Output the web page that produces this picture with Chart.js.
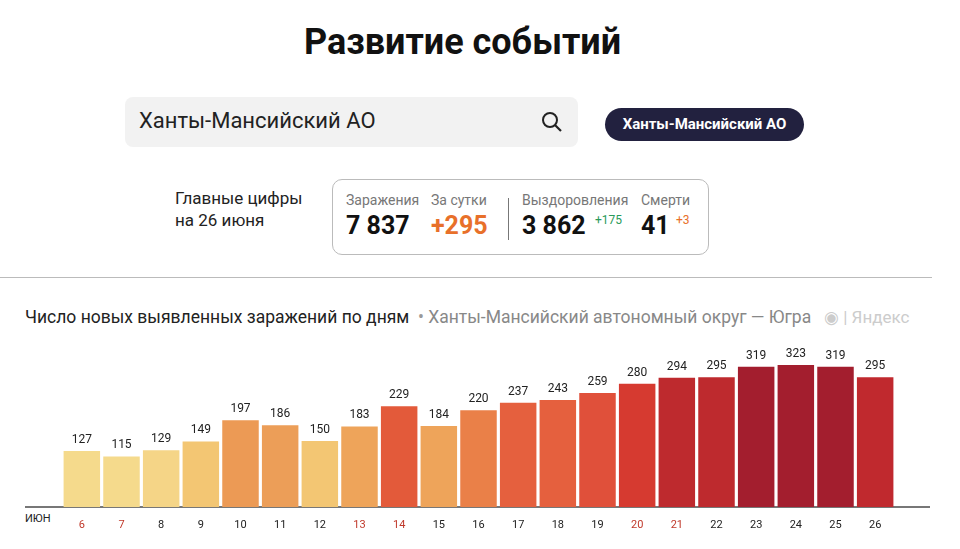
<!DOCTYPE html>
<html>
<head>
<meta charset="utf-8">
<script src="https://cdn.jsdelivr.net/npm/chart.js@4"></script>
<style>
  body { margin: 0; width: 960px; height: 549px; background: #fff; font-family: Roboto, "Noto Sans", sans-serif; position: relative; overflow: hidden; }
  .abs { position: absolute; }
  h1 { position: absolute; top: 21px; left: 0; width: 925px; text-align: center; margin: 0; font-size: 36px; font-weight: 700; color: #111; }
  .search { left: 125px; top: 97px; width: 453px; height: 50px; background: #f2f2f2; border-radius: 8px; }
  .search span { position: absolute; left: 14px; top: 11px; font-size: 22px; color: #222; }
  .pill { left: 605px; top: 108px; width: 199px; height: 33px; background: #22213f; color: #fff; border-radius: 17px; font-size: 15px; font-weight: 700; text-align: center; line-height: 33px; }
  .box { left: 332px; top: 179px; width: 375px; height: 74px; border: 1px solid #bbb; border-radius: 10px; }
  .lbl { font-size: 14px; color: #777; }
  .num { font-size: 25px; font-weight: 700; color: #111; }
</style>
</head>
<body>
<h1>Развитие событий</h1>
<div class="abs search"><span>Ханты-Мансийский АО</span>
  <svg class="abs" style="left:416px;top:14px" width="22" height="22" viewBox="0 0 22 22"><circle cx="9" cy="9" r="7" fill="none" stroke="#222" stroke-width="2"/><line x1="14" y1="14" x2="20" y2="20" stroke="#222" stroke-width="2.2"/></svg>
</div>
<div class="abs pill">Ханты-Мансийский АО</div>
<div class="abs" style="left:175px;top:187px;font-size:17px;color:#222;line-height:22px">Главные цифры<br>на 26 июня</div>
<div class="abs box">
  <div class="abs lbl" style="left:13px;top:12px">Заражения</div>
  <div class="abs num" style="left:13px;top:31px">7 837</div>
  <div class="abs lbl" style="left:98px;top:12px">За сутки</div>
  <div class="abs num" style="left:98px;top:31px;color:#e8702a">+295</div>
  <div class="abs" style="left:175px;top:18px;width:1px;height:42px;background:#777"></div>
  <div class="abs lbl" style="left:189px;top:12px">Выздоровления</div>
  <div class="abs num" style="left:189px;top:31px">3 862</div>
  <div class="abs" style="left:262px;top:33px;font-size:12px;color:#2a9a5a">+175</div>
  <div class="abs lbl" style="left:308px;top:12px">Смерти</div>
  <div class="abs num" style="left:308px;top:31px">41</div>
  <div class="abs" style="left:343px;top:33px;font-size:12px;color:#e8702a">+3</div>
</div>
<div class="abs" style="left:0;top:277px;width:932px;height:1px;background:#bbb"></div>
<div class="abs" style="left:25px;top:307px;font-size:17.5px;color:#222;white-space:nowrap">Число новых выявленных заражений по дням <span style="color:#999">&nbsp;•&nbsp;</span><span style="color:#888">Ханты-Мансийский автономный округ — Югра</span></div>
<div class="abs" style="left:824px;top:307px;font-size:17px;color:#ccc;white-space:nowrap">◉ | Яндекс</div>
<div class="abs" style="left:25px;top:506px;width:905px;height:2px;background:#777"></div>
<div class="abs" style="left:25px;top:512px;font-size:11px;color:#222">ИЮН</div>
<canvas id="c" class="abs" style="left:0;top:320px" width="960" height="220"></canvas>
<script>
const days = ['6','7','8','9','10','11','12','13','14','15','16','17','18','19','20','21','22','23','24','25','26'];
const cases = [127,115,129,149,197,186,150,183,229,184,220,237,243,259,280,294,295,319,323,319,295];
const weekend = ['6','7','13','14','20','21'];
const colors = ['#f5da8c','#f5da8c','#f5d587','#f3c673','#ec9a55','#ec9e58','#f3c673','#eea45a','#e35a3a','#eea45a','#ea8048','#e5603e','#e5603e','#e0503a','#d63a30','#be2a2e','#be2a2e','#a31e2e','#a31e2e','#a31e2e','#c0292e'];

const labelsPlugin = {
  id: 'vals',
  afterDatasetsDraw(chart) {
    const ctx = chart.ctx;
    const meta = chart.getDatasetMeta(0);
    ctx.save();
    ctx.font = '12px Roboto, sans-serif';
    ctx.fillStyle = '#222';
    ctx.textAlign = 'center';
    ctx.textBaseline = 'bottom';
    meta.data.forEach((bar, i) => ctx.fillText(cases[i], bar.x, bar.y - 5));
    ctx.restore();
  }
};

new Chart(document.getElementById('c'), {
  type: 'bar',
  data: { labels: days, datasets: [{ data: cases, backgroundColor: colors, barPercentage: 0.92, categoryPercentage: 1 }] },
  options: {
    responsive: false, animation: false,
    layout: { padding: { left: 62, right: 65, top: 11, bottom: 0 } },
    plugins: { legend: { display: false }, tooltip: { enabled: false } },
    scales: {
      y: { display: false, min: 0, max: 400 },
      x: {
        grid: { display: false }, border: { display: false },
        afterFit(s) { s.height = 33; },
        ticks: { padding: 4, font: { size: 11, family: 'Roboto' }, color: ctx => weekend.includes(days[ctx.index]) ? '#c0392b' : '#222' }
      }
    }
  },
  plugins: [labelsPlugin]
});
</script>
</body>
</html>
